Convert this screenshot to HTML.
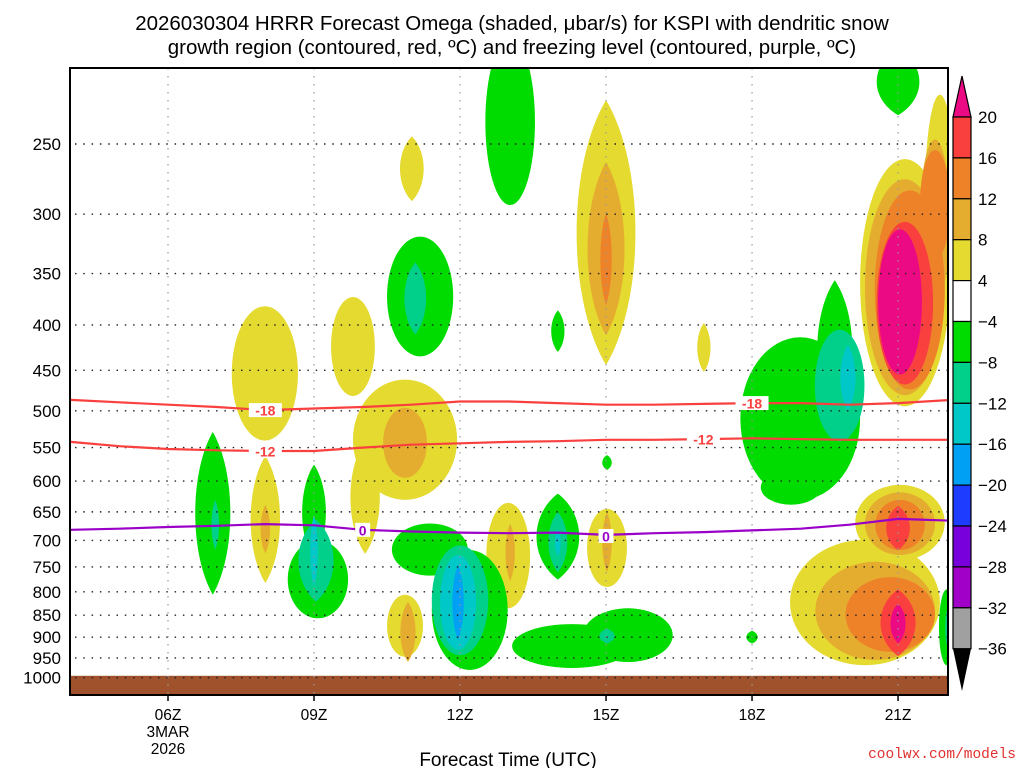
<!DOCTYPE html>
<html><head><meta charset="utf-8"><style>
html,body{margin:0;padding:0;background:#fff;}
svg{display:block;font-family:"Liberation Sans",sans-serif;}
</style></head><body>
<svg id="chart" width="1024" height="768" viewBox="0 0 1024 768">
<defs><clipPath id="plotclip"><rect x="70" y="68" width="878" height="627"/></clipPath></defs>
<text x="512" y="30" text-anchor="middle" font-size="20.5">2026030304 HRRR Forecast Omega (shaded, μbar/s) for KSPI with dendritic snow</text>
<text x="512" y="54" text-anchor="middle" font-size="20.5">growth region (contoured, red, ºC) and freezing level (contoured, purple, ºC)</text>
<g id="plot" clip-path="url(#plotclip)"></g>
<g id="axes"></g>
<g id="cbar"></g>
<text x="508" y="766" text-anchor="middle" font-size="19">Forecast Time (UTC)</text>
<text x="1016" y="758" text-anchor="end" font-size="14.5" fill="#e03030" font-family="Liberation Mono, monospace">coolwx.com/models</text>
</svg>
<script>
const pressureTicks = [250,300,350,400,450,500,550,600,650,700,750,800,850,900,950,1000];
const hourTicks = [6,9,12,15,18,21];
const hourTickLabels = ["06Z","09Z","12Z","15Z","18Z","21Z"];
const cbarLevels = [20,16,12,8,4,-4,-8,-12,-16,-20,-24,-28,-32,-36];
const cbarColors = ["#f9403f","#ee8229","#e5ad2f","#e5da2f","#ffffff","#00dc00","#00d08a","#00c8c8","#00a0f5","#1e3cff","#7800dc","#a000c8","#a0a0a0"];
const levelColors = {y:"#e5da2f",d:"#e5ad2f",o:"#ee8229",r:"#f9403f",m:"#ec0a84",g:"#00dc00",t:"#00d08a",c:"#00c8c8",b:"#00a0f5"};
// blobs: [hour center, hour half-width, p top, p bottom, level, shape (e=ellipse, l=lens)]
const yellowBlobs = [[11.01,.25,245,290,'y','l'],[7.99,.68,381,540,'y','e'],[8.0,.31,562,782,'y','l'],[9.8,.45,372,481,'y','e'],[10.87,1.07,461,630,'y','e'],[10.05,.31,540,725,'y','l'],[10.87,.37,806,947,'y','e'],[12.99,.45,635,835,'y','e'],[15.0,.62,223,444,'y','l'],[17.01,.14,398,452,'y','l'],[15.02,.41,645,790,'y','e'],[21.14,.92,260,494,'y','e'],[21.86,.31,220,375,'y','e'],[21.04,.92,606,737,'y','e'],[20.32,1.54,699,968,'y','e']];
const darkYellowBlobs = [[10.87,.45,496,595,'d','e'],[10.93,.16,821,960,'d','l'],[15.0,.39,262,411,'d','l'],[21.14,.82,274,480,'d','e'],[21.76,.31,247,375,'d','e'],[21.04,.72,618,727,'d','e'],[20.53,1.23,740,955,'d','e'],[8.0,.1,638,724,'d','l'],[13.03,.1,670,778,'d','l'],[15.02,.1,650,760,'d','l']];
const orangeBlobs = [[15.0,.12,299,380,'o','l'],[21.24,.72,282,473,'o','e'],[21.76,.31,254,338,'o','e'],[21.04,.51,630,718,'o','e'],[20.84,.92,770,935,'o','e']];
const redBlobs = [[21.14,.58,306,467,'r','e'],[21.0,.25,640,718,'r','l'],[21.0,.37,795,945,'r','l']];
const magentaBlobs = [[21.04,.45,312,455,'m','e'],[21.0,.16,825,915,'m','l']];
const greenBlobs = [[13.03,.51,190,293,'g','e'],[11.18,.68,318,434,'g','e'],[6.92,.37,528,806,'g','l'],[9.0,.25,575,737,'g','l'],[9.08,.62,700,857,'g','e'],[11.38,.78,670,767,'g','e'],[12.2,.78,718,980,'g','e'],[21.0,.45,195,232,'g','l'],[14.01,.14,385,429,'g','l'],[18.99,1.23,413,630,'g','e'],[19.7,.37,356,512,'g','l'],[18.8,.62,583,638,'g','e'],[15.02,.1,561,583,'g','l'],[14.01,.45,620,775,'g','l'],[14.3,1.23,870,975,'g','e'],[15.45,.92,835,960,'g','e'],[18.0,.12,885,915,'g','l'],[22.0,.16,795,968,'g','e']];
const tealBlobs = [[11.08,.23,340,410,'t','l'],[6.97,.08,630,717,'t','l'],[9.04,.37,663,821,'t','l'],[12.0,.58,709,943,'t','e'],[19.8,.51,405,541,'t','e'],[14.01,.2,650,760,'t','l'],[15.02,.16,880,915,'t','l'],[22.05,.08,830,930,'t','e']];
const cyanBlobs = [[9.0,.08,655,790,'c','l'],[11.96,.37,727,930,'c','e'],[19.97,.16,421,500,'c','l'],[14.01,.06,680,730,'c','l']];
const blueBlobs = [[11.96,.12,746,907,'b','l']];
const contourHours = [4,5,6,7,8,9,10,11,12,13,14,15,16,17,18,19,20,21,22.1];
const minus18P = [486,489,492,495,499,497,495,492,488,488,490,492,492,491,490,490,492,490,486];
const minus12P = [542,548,552,554,555,555,550,546,544,542,541,539,539,538,537,538,539,539,539];
const zeroP = [681,679,676,674,671,673,681,684,686,687,686,690,687,685,682,679,672,662,665];
const contourLabels = [["-18",8.0,499,"#f9403f"],["-18",18.0,490,"#f9403f"],["-12",8.0,555,"#f9403f"],["-12",17.0,538,"#f9403f"],["0",10.0,681,"#9a00c8"],["0",15.0,692,"#9a00c8"]];

const NS="http://www.w3.org/2000/svg";
const xOf = h => 168 + (h-6)*48.67;
const yOf = p => 144 + Math.log(p/250)*385;
function mk(tag, attrs, parent){const e=document.createElementNS(NS,tag);for(const k in attrs)e.setAttribute(k,attrs[k]);parent.appendChild(e);return e;}
const plot=document.getElementById('plot'), axes=document.getElementById('axes'), cbar=document.getElementById('cbar');

[yellowBlobs,darkYellowBlobs,orangeBlobs,redBlobs,magentaBlobs,greenBlobs,tealBlobs,cyanBlobs,blueBlobs].forEach(arr=>{
  arr.forEach(b=>{
    const yt=yOf(b[2]), yb=yOf(b[3]), cx=xOf(b[0]), rx=b[1]*48.67, hh=yb-yt;
    let e;
    if(b[5]==='l'){
      const k=rx*1.3;
      const d=`M${cx},${yt} C${cx+k},${yt+hh*0.25} ${cx+k},${yb-hh*0.25} ${cx},${yb} C${cx-k},${yb-hh*0.25} ${cx-k},${yt+hh*0.25} ${cx},${yt}Z`;
      e=mk('path',{d:d,fill:levelColors[b[4]]},plot);
    } else {
      e=mk('ellipse',{cx:cx,cy:(yt+yb)/2,rx:rx,ry:hh/2,fill:levelColors[b[4]]},plot);
    }
    
    
  });
});
const g=mk('rect',{x:70,y:yOf(995),width:878,height:40,fill:'#a0522d'},plot);


pressureTicks.forEach(p=>{
  const l=mk('line',{x1:75,x2:948,y1:yOf(p),y2:yOf(p),stroke:'#222','stroke-width':1.4,'stroke-dasharray':'1.5,6.8'},plot);
  
  
});
hourTicks.forEach(h=>{
  const l=mk('line',{x1:xOf(h),x2:xOf(h),y1:68,y2:695,stroke:'#999','stroke-width':1.2,'stroke-dasharray':'1.5,6.5'},plot);
  
  
});
function drawLine(ps,color,name){
  const d=contourHours.map((h,i)=>(i?'L':'M')+xOf(h).toFixed(1)+','+yOf(ps[i]).toFixed(1)).join(' ');
  const e=mk('path',{d:d,stroke:color,'stroke-width':2.2,fill:'none','stroke-linejoin':'round'},plot);
  
  
}
drawLine(minus18P,'#f9403f','contour-minus-18');
drawLine(minus12P,'#f9403f','contour-minus-12');
drawLine(zeroP,'#9a00c8','freezing-level-0');
contourLabels.forEach(c=>{
  const x=xOf(c[1]), y=yOf(c[2]);
  const w=c[0].length*9+6;
  mk('rect',{x:x-w/2,y:y-7,width:w,height:14,fill:'#fff'},plot);
  const t=mk('text',{x:x,y:y+5.5,'text-anchor':'middle','font-size':14,'font-weight':'bold',fill:c[3]},plot);
  t.textContent=c[0];
  
  
});
const fr=mk('rect',{x:70,y:68,width:878,height:627,fill:'none',stroke:'#000','stroke-width':2},axes);


pressureTicks.forEach(p=>{
  const t=mk('text',{x:61,y:yOf(p)+6,'text-anchor':'end','font-size':17},axes);
  t.textContent=p;
  
  
});
hourTicks.forEach((h,i)=>{
  mk('line',{x1:xOf(h),x2:xOf(h),y1:695,y2:701,stroke:'#000','stroke-width':1.5},axes);
  const t=mk('text',{x:xOf(h),y:720,'text-anchor':'middle','font-size':15.5},axes);
  t.textContent=hourTickLabels[i];
  
  
});
[["3MAR",737],["2026",754]].forEach(s=>{
  const t=mk('text',{x:xOf(6),y:s[1],'text-anchor':'middle','font-size':15.5},axes);
  t.textContent=s[0];
  
  
});
const cx0=953,cw=18,cTop=117,cStep=40.9;
mk('polygon',{points:`${cx0},${cTop} ${cx0+cw},${cTop} ${cx0+cw/2},76`,fill:'#ec0a84',stroke:'#000','stroke-width':1.2},cbar);
cbarColors.forEach((c,i)=>{
  const r=mk('rect',{x:cx0,y:cTop+i*cStep,width:cw,height:cStep,fill:c,stroke:'#000','stroke-width':1.2},cbar);
  
  
});
const bt=cTop+cbarColors.length*cStep;
mk('polygon',{points:`${cx0},${bt} ${cx0+cw},${bt} ${cx0+cw/2},691`,fill:'#000'},cbar);
cbarLevels.forEach((v,i)=>{
  const t=mk('text',{x:978,y:cTop+i*cStep+6,'font-size':17},cbar);
  t.textContent=v<0?'−'+(-v):String(v);
  
  
});
</script>
</body></html>
